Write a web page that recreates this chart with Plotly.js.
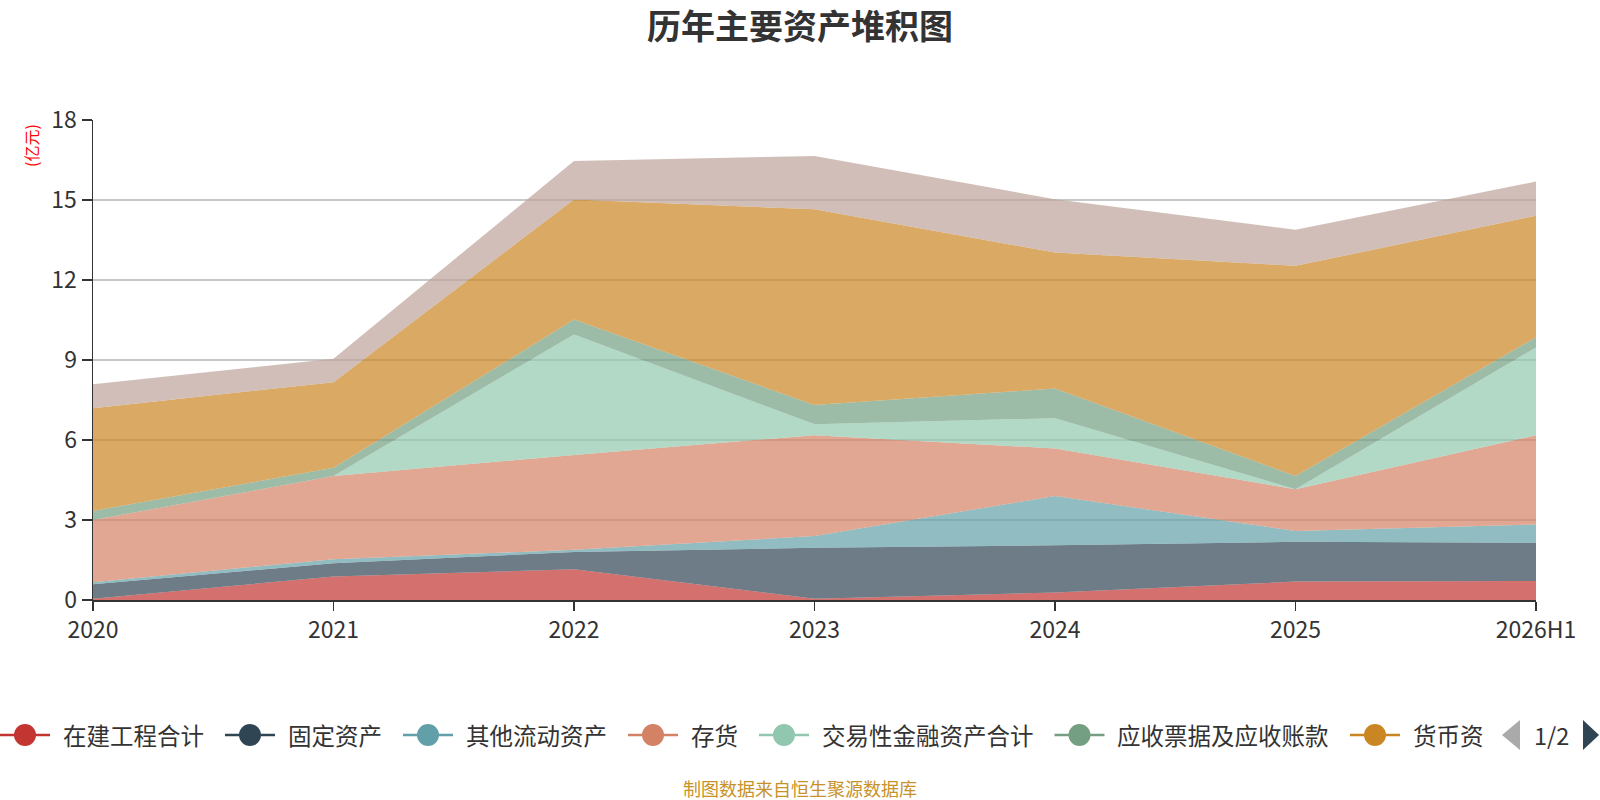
<!DOCTYPE html>
<html>
<head>
<meta charset="utf-8">
<script src="https://cdn.plot.ly/plotly-3.0.1.min.js"></script>
<style>
  html, body { margin: 0; padding: 0; background: #fff; }
  #chart { width: 1600px; height: 800px; }
</style>
</head>
<body>
<div id="chart"></div>
<script>
// 报告期
const periods = ['2020', '2021', '2022', '2023', '2024', '2025', '2026H1'];

// 各项资产 (亿元), 从下往上堆叠
const zaijian   = [0.05, 0.88, 1.15, 0.05, 0.28, 0.69, 0.71];   // 在建工程合计
const guding    = [0.54, 0.50, 0.65, 1.91, 1.77, 1.49, 1.44];   // 固定资产
const qitaLiudong = [0.08, 0.15, 0.08, 0.44, 1.85, 0.41, 0.68]; // 其他流动资产
const cunhuo    = [2.33, 3.12, 3.56, 3.78, 1.78, 1.56, 3.35];   // 存货
const jiaoyixing = [0.00, 0.00, 4.52, 0.41, 1.14, 0.00, 3.29];  // 交易性金融资产合计
const yingshou  = [0.34, 0.31, 0.56, 0.72, 1.11, 0.50, 0.38];   // 应收票据及应收账款
const huobi     = [3.85, 3.21, 4.50, 7.34, 5.10, 7.88, 4.56];   // 货币资金
const wuxing    = [0.90, 0.88, 1.44, 2.00, 2.00, 1.35, 1.28];   // 无形资产 (图例第2页)

const seriesNames = ['在建工程合计', '固定资产', '其他流动资产', '存货', '交易性金融资产合计', '应收票据及应收账款', '货币资金', '无形资产'];
const seriesValues = [zaijian, guding, qitaLiudong, cunhuo, jiaoyixing, yingshou, huobi, wuxing];
// 图例第1页显示的文字 (最后一项被截断)
const legendLabels = ['在建工程合计', '固定资产', '其他流动资产', '存货', '交易性金融资产合计', '应收票据及应收账款', '货币资'];

const palette = ['#c23531', '#2f4554', '#61a0a8', '#d48265', '#91c7ae', '#749f83', '#ca8622', '#bda29a'];

function fade(hex, a) {
    const n = parseInt(hex.slice(1), 16);
    return `rgba(${(n >> 16) & 255},${(n >> 8) & 255},${n & 255},${a})`;
}

const cjk = '"Noto Sans CJK SC", "Noto Sans", sans-serif';

// fixed plot box (no automargin) so paper coords map to pixels
const M = { l: 93, r: 64, t: 120, b: 200 };
const W = 1600, H = 800;
const plotW = W - M.l - M.r, plotH = H - M.t - M.b;
const px2x = px => (px - M.l) / plotW;
const py2y = py => (H - M.b - py) / plotH;

const traces = seriesValues.map((vals, i) => ({
    x: periods,
    y: vals,
    name: seriesNames[i],
    type: 'scatter',
    mode: 'lines',
    stackgroup: 'assets',
    line: { width: 0, color: palette[i] },
    fillcolor: fade(palette[i], 0.7),
    showlegend: false,
    hoverinfo: 'skip'
}));

// hand-drawn legend (echarts style: line + circle, paged)
const legendFont = 23.5;
const legendY = 735;
const ctx = document.createElement('canvas').getContext('2d');
ctx.font = `${legendFont}px "Noto Sans CJK SC"`;

const shapes = [];
const annotations = [];
let cursor = 0;
legendLabels.forEach((label, i) => {
    shapes.push({
        type: 'line', xref: 'paper', yref: 'paper',
        x0: px2x(cursor), x1: px2x(cursor + 50), y0: py2y(legendY), y1: py2y(legendY),
        line: { color: palette[i], width: 2.5 }
    });
    shapes.push({
        type: 'circle', xref: 'paper', yref: 'paper',
        x0: px2x(cursor + 14), x1: px2x(cursor + 36), y0: py2y(legendY - 11), y1: py2y(legendY + 11),
        fillcolor: palette[i], line: { width: 0 }
    });
    annotations.push({
        text: label, xref: 'paper', yref: 'paper',
        x: px2x(cursor + 61), y: py2y(legendY),
        xanchor: 'left', yanchor: 'middle', showarrow: false,
        font: { size: legendFont, color: '#333' }
    });
    cursor += 61 + ctx.measureText(label).width + 23;
});

// pager arrows
shapes.push({
    type: 'path', xref: 'paper', yref: 'paper',
    path: `M ${px2x(1502)} ${py2y(735)} L ${px2x(1520)} ${py2y(720)} L ${px2x(1520)} ${py2y(750)} Z`,
    fillcolor: '#aaaaaa', line: { width: 0 }
});
shapes.push({
    type: 'path', xref: 'paper', yref: 'paper',
    path: `M ${px2x(1583)} ${py2y(720)} L ${px2x(1599)} ${py2y(735)} L ${px2x(1583)} ${py2y(750)} Z`,
    fillcolor: '#2f4554', line: { width: 0 }
});

annotations.push(
    {
        text: '1/2', xref: 'paper', yref: 'paper',
        x: px2x(1551), y: py2y(735),
        xanchor: 'center', yanchor: 'middle', showarrow: false,
        font: { size: 23.5, color: '#333' }
    },
    {
        text: '(亿元)', xref: 'paper', yref: 'paper',
        x: px2x(31), y: py2y(146),
        xanchor: 'center', yanchor: 'middle',
        textangle: -90, showarrow: false,
        font: { size: 16, color: '#ff0000' }
    },
    {
        text: '制图数据来自恒生聚源数据库', xref: 'paper', yref: 'paper',
        x: px2x(800), y: py2y(788),
        xanchor: 'center', yanchor: 'middle', showarrow: false,
        font: { size: 18, color: '#c8922a' }
    }
);

const axisCommon = {
    showline: true,
    linecolor: '#333',
    linewidth: 1.5,
    ticks: 'outside',
    tickcolor: '#333',
    tickwidth: 1.5,
    tickfont: { size: 23, color: '#333' },
    zeroline: false,
    automargin: false,
    fixedrange: true
};

const layout = {
    width: W,
    height: H,
    margin: M,
    paper_bgcolor: '#fff',
    plot_bgcolor: '#fff',
    font: { family: cjk, color: '#333', size: 23 },
    showlegend: false,
    title: {
        text: '<b>历年主要资产堆积图</b>',
        x: 0.5,
        xanchor: 'center',
        y: 0.966,
        yanchor: 'middle',
        font: { family: cjk, size: 34, color: '#333' }
    },
    xaxis: Object.assign({}, axisCommon, {
        type: 'category',
        range: [0, 6],
        showgrid: false,
        ticklen: 9
    }),
    yaxis: Object.assign({}, axisCommon, {
        range: [0, 18],
        dtick: 3,
        showgrid: true,
        gridcolor: '#c8c8c8',
        gridwidth: 1.5,
        ticklen: 10
    }),
    shapes: shapes,
    annotations: annotations,
    hovermode: false
};

Plotly.newPlot('chart', traces, layout, { displayModeBar: false, staticPlot: true });
</script>
</body>
</html>
